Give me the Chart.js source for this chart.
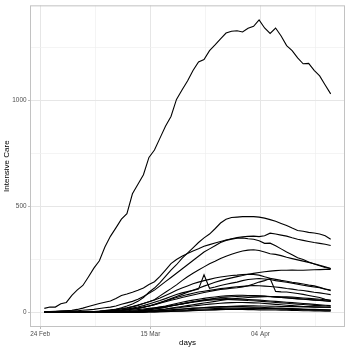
<!DOCTYPE html>
<html>
<head>
<meta charset="utf-8">
<script src="https://cdn.jsdelivr.net/npm/chart.js@4.4.1/dist/chart.umd.min.js"></script>
<style>
  html, body { margin:0; padding:0; background:#fff; }
  #wrap { width:350px; height:350px; }
</style>
</head>
<body>
<div id="wrap"><canvas id="icu" width="350" height="350"></canvas></div>
<script>
// intensive care counts per region, one value per day, 24 Feb -> 16 Apr
const lombardia = [19,25,25,41,47,80,106,127,167,209, 244,309,359,399,440,466,560,605,650,732, 767,823,879,925,1006,1050,1093,1142,1183,1194, 1236,1263,1292,1319,1328,1330,1324,1342,1351,1381, 1343,1317,1343,1305,1260,1236,1202,1174,1176,1143, 1117,1074,1032];
const piemonte = [0,0,0,0,0,0,0,0,0,2, 4,7,10,15,22,30,40,52,70,95, 115,140,170,200,225,255,280,305,330,352, 370,395,422,440,448,450,452,453,452,450, 445,438,430,420,410,398,387,383,378,375, 370,362,345];
const emilia = [2,3,4,6,8,10,14,20,28,35, 42,48,54,66,80,87,95,104,115,132, 145,170,200,230,250,265,278,290,300,312, 320,328,335,342,348,353,357,359,360,358, 362,374,370,365,360,352,345,340,335,330, 326,322,316];
const veneto = [3,4,5,6,7,8,8,10,12,14, 18,22,25,30,38,45,52,62,75,90, 105,125,145,165,185,205,225,245,265,285, 300,315,330,340,346,350,352,348,345,338, 326,327,315,300,285,272,258,250,238,228, 220,212,207];
const toscana = [0,0,0,0,0,0,0,1,2,3, 5,7,9,12,16,20,26,33,42,50, 60,78,95,112,130,150,168,185,200,215, 230,242,255,265,275,283,290,294,296,292, 285,277,274,268,260,254,248,242,236,230, 223,215,207];
const lazio = [1,1,1,1,1,1,1,1,1,2, 3,4,5,7,9,12,16,20,25,30, 36,45,55,65,75,85,95,105,114,124, 133,142,150,157,163,169,174,180,184,188, 192,195,197,199,199,200,199,199,200,201, 202,203,203];
const liguria = [0,0,0,0,0,0,0,1,2,4, 6,9,12,15,18,22,28,35,42,50, 58,68,80,92,104,115,125,135,143,150, 156,162,167,171,174,176,179,180,179,176, 168,161,156,151,147,142,138,134,129,125, 118,110,102];
const marche = [0,0,0,0,0,0,0,0,0,0, 2,4,6,9,12,16,20,25,32,40, 48,56,65,75,84,92,98,104,110,178, 114,120,127,133,138,143,150,155,158,160, 158,155,150,146,142,138,133,128,124,120, 116,110,106];
const puglia = [0,0,0,0,0,0,0,0,0,1, 2,3,5,7,9,12,15,19,24,30, 36,43,50,57,63,70,76,82,88,94, 99,104,108,111,114,116,120,126,134,143, 150,160,99,97,96,93,89,85,80,75, 70,62,55];
const campania = [0,0,0,0,0,0,0,0,0,0, 1,2,4,6,10,14,17,20,24,30, 38,46,55,62,70,77,84,90,96,100, 104,108,112,115,118,121,123,125,127,126, 124,122,120,117,113,110,106,103,99,95, 92,88,84];
const sicilia = [0,0,0,0,0,0,0,0,0,0, 0,0,0,0,2,4,6,8,10,13, 16,20,25,30,35,40,45,50,55,59, 63,66,70,72,74,75,76,77,78,77, 76,74,72,70,68,66,64,62,60,58, 56,54,52];
const trento = [0,0,0,0,0,0,0,0,0,0, 0,0,0,0,1,3,5,8,12,16, 20,25,30,36,42,48,53,58,62,66, 70,73,76,78,80,81,81,80,79,78, 77,75,73,71,69,67,65,63,61,59, 57,55,53];
const abruzzo = [0,0,0,0,0,0,0,0,0,0, 0,0,0,0,0,1,2,4,6,8, 10,13,16,20,24,28,32,36,40,44, 48,52,56,60,63,66,68,70,72,73, 74,75,75,74,73,72,70,68,66,64, 62,60,58];
const bolzano = [0,0,0,0,0,0,0,0,0,0, 0,0,0,0,1,2,4,6,9,12, 16,20,25,30,35,40,45,50,54,58, 61,63,64,65,64,63,62,61,60,58, 56,54,52,50,48,46,44,42,40,38, 36,34,32];
const friuli = [0,0,0,0,0,0,0,0,0,0, 1,2,3,4,6,8,10,13,16,19, 22,25,28,32,36,40,44,48,52,55, 58,60,61,61,60,59,58,56,55,53, 51,49,47,45,43,41,39,37,35,33, 32,30,29];
const umbria = [0,0,0,0,0,0,0,0,0,0, 0,0,0,0,0,1,2,3,5,7, 9,12,15,18,21,24,27,30,33,36, 39,41,43,45,46,47,47,46,45,44, 42,40,38,36,34,32,30,28,27,26, 25,24,23];
const sardegna = [0,0,0,0,0,0,0,0,0,0, 0,0,0,0,0,0,1,2,3,4, 5,7,9,11,13,15,17,19,21,23, 25,26,27,28,29,30,31,31,31,30, 30,29,29,28,28,27,27,26,26,25, 25,24,24];
const valdaosta = [0,0,0,0,0,0,0,0,0,0, 0,0,0,0,0,1,2,3,4,5, 6,8,10,12,14,16,18,20,21,22, 23,24,25,26,27,27,27,26,25,24, 23,22,21,20,19,18,17,16,15,14, 13,12,11];
const calabria = [0,0,0,0,0,0,0,0,0,0, 0,0,0,0,0,1,1,2,3,4, 5,6,7,8,10,11,12,14,15,16, 17,18,19,20,20,21,21,20,20,19, 19,18,18,17,16,15,14,13,13,12, 11,11,10];
const basilicata = [0,0,0,0,0,0,0,0,0,0, 0,0,0,0,0,0,0,1,1,2, 2,3,4,5,6,7,8,9,10,11, 12,13,14,15,16,17,18,18,18,17, 17,16,16,15,15,14,14,13,13,12, 12,11,11];
const molise = [0,0,0,0,0,0,0,0,0,0, 0,0,0,0,0,0,0,1,1,2, 2,3,3,4,5,6,7,8,9,10, 11,12,13,14,14,14,14,13,13,12, 12,11,11,10,10,9,9,8,8,7, 7,6,6];

const regions = [lombardia, piemonte, emilia, veneto, toscana, lazio, liguria, marche,
  puglia, campania, sicilia, trento, abruzzo, bolzano, friuli, umbria, sardegna,
  valdaosta, calabria, basilicata, molise];

// x axis is in days since 24 Feb; bulletins come out at 18:00
const reportHour = 18;
const tickDays = [0, 20, 40];
const tickLabels = ['24 Feb', '15 Mar', '04 Apr'];
const minorDays = [10, 30, 50];
const yTicks = [0, 500, 1000];
const yMinor = [250, 750, 1250];

const datasets = regions.map(vals => ({
  data: vals.map((v, i) => ({ x: i + reportHour / 24, y: v })),
  borderColor: '#000',
  borderWidth: 1.1,
  pointRadius: 0,
  fill: false,
  tension: 0
}));

// ggplot-ish range: 5% padding on each side
const nDays = lombardia.length;
const xLo = reportHour / 24, xHi = nDays - 1 + reportHour / 24;
const xPad = (xHi - xLo) * 0.05;
const yMax = Math.max(...regions.flat());
const yPad = yMax * 0.05;

const panelBorder = {
  id: 'panelBorder',
  afterDatasetsDraw(chart) {
    const { ctx, chartArea: a } = chart;
    ctx.save();
    ctx.strokeStyle = '#c2c2c2';
    ctx.lineWidth = 1;
    ctx.strokeRect(a.left + 0.5, a.top + 0.5, a.right - a.left - 1, a.bottom - a.top - 1);
    ctx.restore();
  }
};

const tickFont = { family: 'Liberation Sans', size: 6.4 };
const titleFont = { family: 'Liberation Sans', size: 8 };
const isMajorX = v => tickDays.includes(v);
const isMajorY = v => yTicks.includes(v);

new Chart(document.getElementById('icu'), {
  type: 'line',
  data: { datasets },
  plugins: [panelBorder],
  options: {
    responsive: false,
    animation: false,
    devicePixelRatio: 1,
    layout: { padding: { top: 3, right: 5, left: 0, bottom: 0 } },
    plugins: { legend: { display: false }, tooltip: { enabled: false } },
    scales: {
      x: {
        type: 'linear',
        min: xLo - xPad,
        max: xHi + xPad,
        afterBuildTicks: s => { s.ticks = [...tickDays, ...minorDays].sort((a, b) => a - b).map(v => ({ value: v })); },
        afterFit: s => { s.height = 23; },
        border: { display: false },
        grid: {
          color: c => isMajorX(c.tick?.value) ? '#e6e6e6' : '#efefef',
          lineWidth: c => isMajorX(c.tick?.value) ? 1 : 0.7,
          tickLength: 2,
          tickColor: c => isMajorX(c.tick?.value) ? '#b8b8b8' : 'rgba(0,0,0,0)'
        },
        ticks: {
          autoSkip: false, maxRotation: 0, padding: 1.5,
          color: '#4d4d4d', font: tickFont,
          callback: v => { const k = tickDays.indexOf(v); return k >= 0 ? tickLabels[k] : ''; }
        },
        title: { display: true, text: 'days', color: '#000', font: titleFont, padding: { top: 0, bottom: 2.2 } }
      },
      y: {
        type: 'linear',
        min: -yPad,
        max: yMax + yPad,
        afterBuildTicks: s => { s.ticks = [...yTicks, ...yMinor].sort((a, b) => a - b).map(v => ({ value: v })); },
        afterFit: s => { s.width = 30; },
        border: { display: false },
        grid: {
          color: c => isMajorY(c.tick?.value) ? '#e6e6e6' : '#efefef',
          lineWidth: c => isMajorY(c.tick?.value) ? 1 : 0.7,
          tickLength: 2,
          tickColor: c => isMajorY(c.tick?.value) ? '#b8b8b8' : 'rgba(0,0,0,0)'
        },
        ticks: {
          autoSkip: false, padding: 1.5,
          color: '#4d4d4d', font: tickFont,
          callback: v => isMajorY(v) ? String(v) : ''
        },
        title: { display: true, text: 'Intensive Care', color: '#000', font: titleFont, padding: { top: 2.2, bottom: 0 } }
      }
    }
  }
});
</script>
</body>
</html>
